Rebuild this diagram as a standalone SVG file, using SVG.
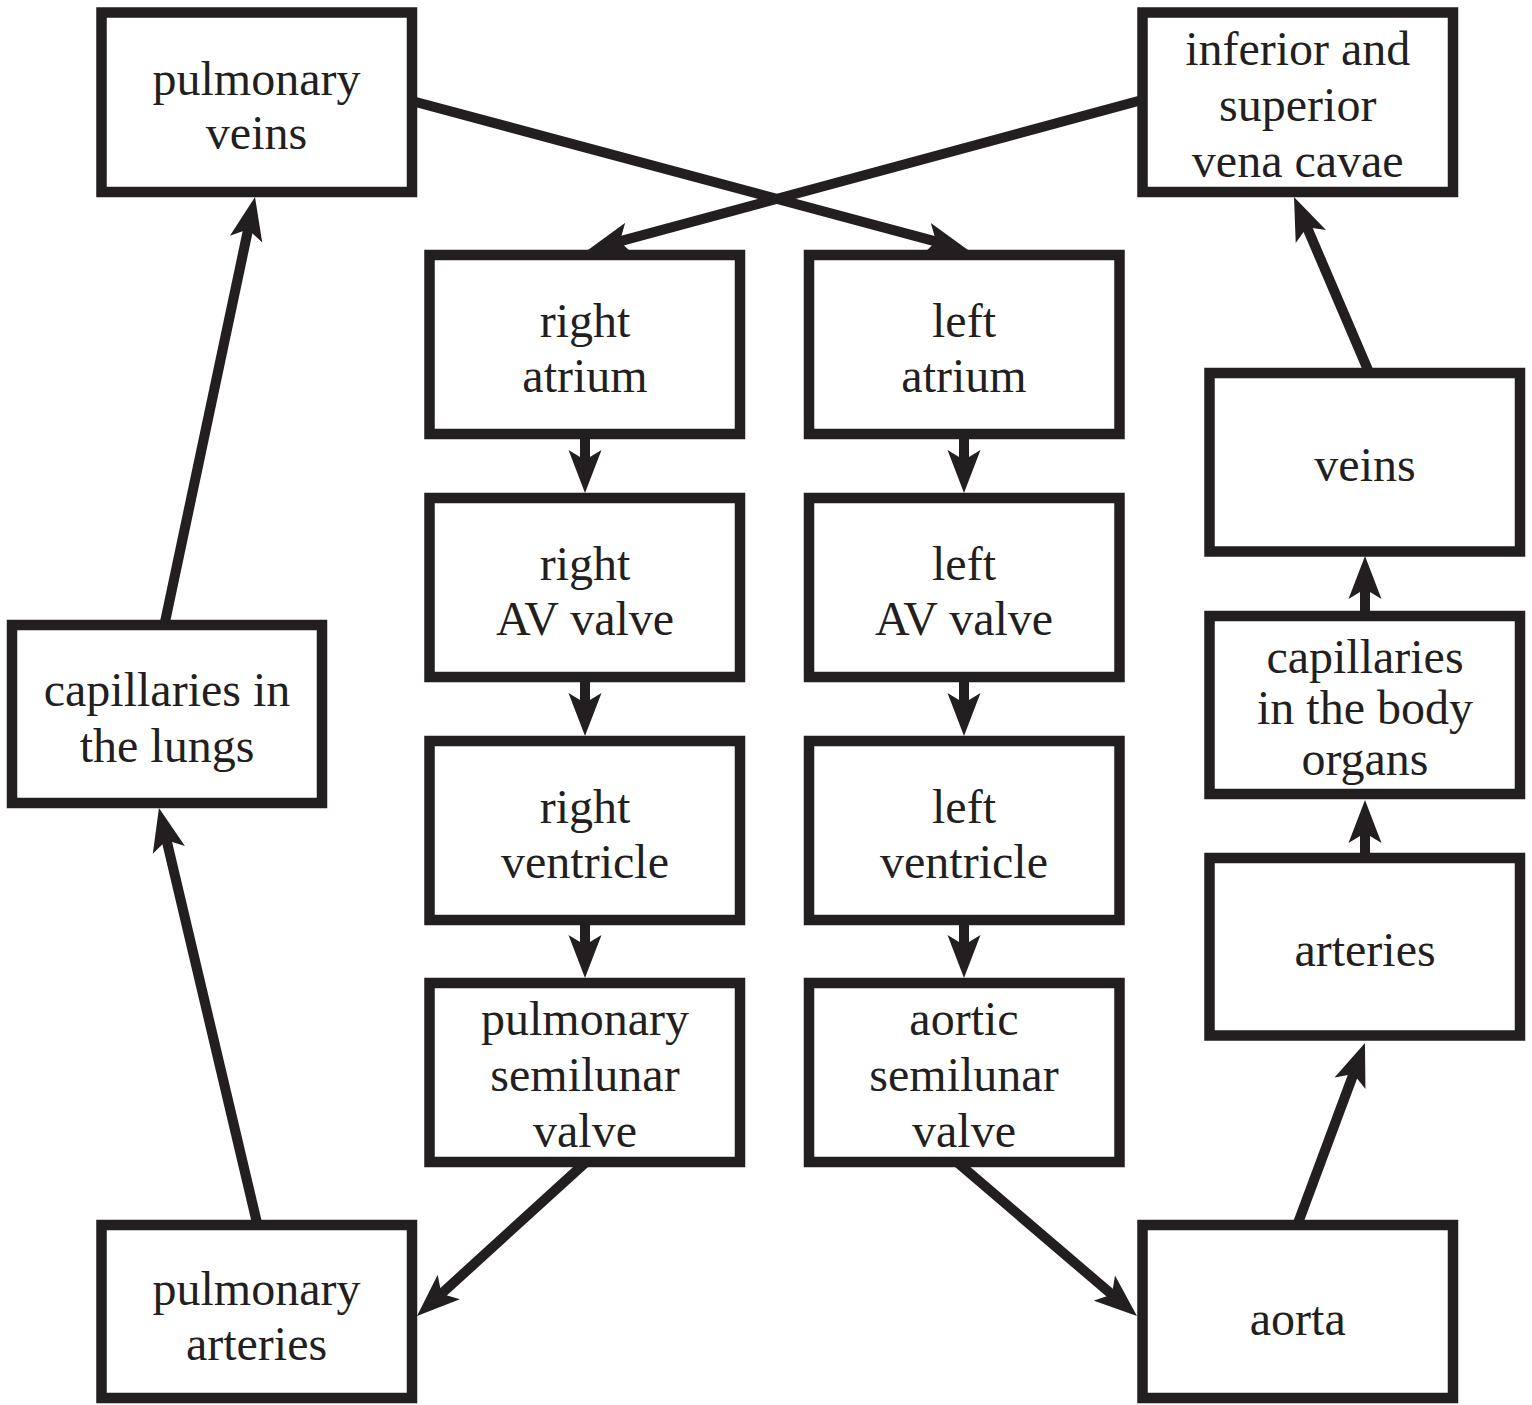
<svg xmlns="http://www.w3.org/2000/svg" width="1532" height="1405" viewBox="0 0 1532 1405">
<style>
.box{fill:#fff;stroke:#231f20;stroke-width:10.5}
.lbl{font-family:"Liberation Serif","Times New Roman",serif;font-size:48px;fill:#231f20;text-anchor:middle}
.con{fill:none;stroke:#231f20;stroke-width:10;marker-end:url(#ah)}
</style>
<defs>
<marker id="ah" markerUnits="userSpaceOnUse" viewBox="0 0 44 34" markerWidth="44" markerHeight="34" refX="15" refY="17" orient="auto">
<path d="M43,17 L0,0.5 L10,17 L0,33.5 Z" fill="#231f20"/>
</marker>
</defs>
<rect width="1532" height="1405" fill="#fff"/>
<g id="connectors">
<line class="con" x1="412" y1="101" x2="941" y2="242.8"/>
<line class="con" x1="1142" y1="100" x2="615" y2="242.7"/>
<line class="con" x1="585" y1="434" x2="585" y2="465"/>
<line class="con" x1="585" y1="677" x2="585" y2="708"/>
<line class="con" x1="585" y1="920" x2="585" y2="950"/>
<line class="con" x1="964" y1="434" x2="964" y2="465"/>
<line class="con" x1="964" y1="677" x2="964" y2="708"/>
<line class="con" x1="964" y1="920" x2="964" y2="950"/>
<line class="con" x1="585" y1="1163" x2="437.7" y2="1297.1"/>
<line class="con" x1="958" y1="1163" x2="1115.7" y2="1297.8"/>
<line class="con" x1="257" y1="1223" x2="165.4" y2="835.3"/>
<line class="con" x1="165" y1="622" x2="249.2" y2="224.4"/>
<line class="con" x1="1298" y1="1223" x2="1355.2" y2="1069.2"/>
<line class="con" x1="1365" y1="858" x2="1365" y2="828"/>
<line class="con" x1="1365" y1="616" x2="1365" y2="584"/>
<line class="con" x1="1368" y1="370" x2="1305" y2="222.7"/>
</g>
<g id="pulmonary-veins"><rect class="box" x="101.5" y="12.5" width="310.5" height="179.5"/><text class="lbl"><tspan x="256.5" y="95">pulmonary</tspan><tspan x="256.5" y="149">veins</tspan></text></g>
<g id="vena-cavae"><rect class="box" x="1142.5" y="12.5" width="310.5" height="179.5"/><text class="lbl"><tspan x="1297.75" y="65">inferior and</tspan><tspan x="1297.75" y="121">superior</tspan><tspan x="1297.75" y="177">vena cavae</tspan></text></g>
<g id="right-atrium"><rect class="box" x="429.5" y="255" width="310.5" height="179"/><text class="lbl"><tspan x="585" y="337">right</tspan><tspan x="585" y="392">atrium</tspan></text></g>
<g id="right-av-valve"><rect class="box" x="429.5" y="498" width="310.5" height="179"/><text class="lbl"><tspan x="585" y="580">right</tspan><tspan x="585" y="635">AV valve</tspan></text></g>
<g id="right-ventricle"><rect class="box" x="429.5" y="741" width="310.5" height="179"/><text class="lbl"><tspan x="585" y="823">right</tspan><tspan x="585" y="878">ventricle</tspan></text></g>
<g id="pulmonary-semilunar-valve"><rect class="box" x="429.5" y="983" width="310.5" height="179"/><text class="lbl"><tspan x="585" y="1035">pulmonary</tspan><tspan x="585" y="1091">semilunar</tspan><tspan x="585" y="1147">valve</tspan></text></g>
<g id="left-atrium"><rect class="box" x="809" y="255" width="310.5" height="179"/><text class="lbl"><tspan x="964" y="337">left</tspan><tspan x="964" y="392">atrium</tspan></text></g>
<g id="left-av-valve"><rect class="box" x="809" y="498" width="310.5" height="179"/><text class="lbl"><tspan x="964" y="580">left</tspan><tspan x="964" y="635">AV valve</tspan></text></g>
<g id="left-ventricle"><rect class="box" x="809" y="741" width="310.5" height="179"/><text class="lbl"><tspan x="964" y="823">left</tspan><tspan x="964" y="878">ventricle</tspan></text></g>
<g id="aortic-semilunar-valve"><rect class="box" x="809" y="983" width="310.5" height="179"/><text class="lbl"><tspan x="964" y="1035">aortic</tspan><tspan x="964" y="1091">semilunar</tspan><tspan x="964" y="1147">valve</tspan></text></g>
<g id="capillaries-lungs"><rect class="box" x="12" y="625" width="310" height="178"/><text class="lbl"><tspan x="167" y="706">capillaries in</tspan><tspan x="167" y="762">the lungs</tspan></text></g>
<g id="pulmonary-arteries"><rect class="box" x="101.5" y="1225" width="310.5" height="173"/><text class="lbl"><tspan x="256.5" y="1305">pulmonary</tspan><tspan x="256.5" y="1360">arteries</tspan></text></g>
<g id="veins"><rect class="box" x="1209.5" y="373" width="310.5" height="178.5"/><text class="lbl" x="1365" y="481">veins</text></g>
<g id="capillaries-body"><rect class="box" x="1209.5" y="616" width="310.5" height="178"/><text class="lbl"><tspan x="1365" y="673">capillaries</tspan><tspan x="1365" y="724">in the body</tspan><tspan x="1365" y="775">organs</tspan></text></g>
<g id="arteries"><rect class="box" x="1209.5" y="858" width="310.5" height="177.5"/><text class="lbl" x="1365" y="966">arteries</text></g>
<g id="aorta"><rect class="box" x="1142.5" y="1225" width="310.5" height="173"/><text class="lbl" x="1297.75" y="1335">aorta</text></g>
</svg>
